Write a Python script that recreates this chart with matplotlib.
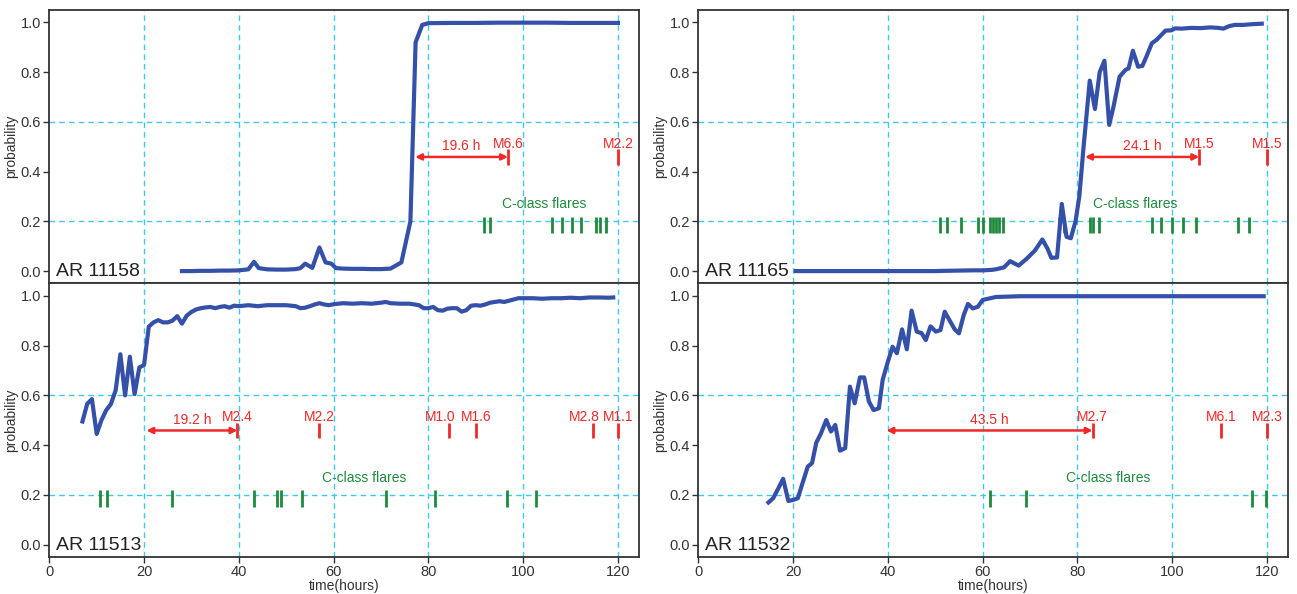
import matplotlib
matplotlib.use("Agg")
import matplotlib.pyplot as plt

plt.rcParams["font.family"] = ["Liberation Sans", "DejaVu Sans"]

BLUE = "#3450a8"
RED = "#f02828"
GREEN = "#1f8a3c"
GRID = "#3cc8f0"
INK = "#333333"

# ---- AR 11158 ----
ar11158_t = [28, 30, 32, 34, 36, 38, 40, 42, 43.2, 44.2, 46, 48, 50, 52, 53, 54, 55.5, 57, 58.3, 59.5,
             60.5, 62, 64, 66, 68, 70, 72, 74.3, 76.2, 77.3, 78.7, 80, 85, 90, 95, 100, 105, 110, 115, 120]
ar11158_p = [0.0, 0.0, 0.001, 0.001, 0.002, 0.002, 0.003, 0.007, 0.037, 0.012, 0.007, 0.006, 0.006, 0.008, 0.012,
             0.03, 0.013, 0.095, 0.035, 0.03, 0.012, 0.01, 0.009, 0.009, 0.008, 0.008, 0.01, 0.035, 0.2, 0.92,
             0.99, 0.997, 0.998, 0.998, 0.999, 0.999, 0.999, 0.998, 0.998, 0.998]
ar11158_m_times = [96.8, 120.0]
ar11158_m_labels = ["M6.6", "M2.2"]
ar11158_c_times = [91.8, 93.1, 106.0, 108.2, 110.4, 112.1, 115.4, 116.3, 117.4]
ar11158_lead = 19.6

# ---- AR 11513 ----
ar11513_t = list(range(7, 41)) + [42, 44, 46, 48, 50, 52] + list(range(53, 61)) + [62, 64, 66, 68, 70, 71, 72, 74, 76, 78] \
    + list(range(79, 101)) + list(range(102, 119, 2)) + [119]
ar11513_p = [0.495, 0.566, 0.585, 0.445, 0.5, 0.54, 0.565, 0.62, 0.765, 0.60,
             0.755, 0.605, 0.712, 0.722, 0.876, 0.893, 0.902, 0.893, 0.893, 0.9,
             0.918, 0.888, 0.92, 0.935, 0.945, 0.95, 0.953, 0.955, 0.95, 0.955,
             0.958, 0.952, 0.96, 0.958,
             0.962, 0.958, 0.962, 0.962, 0.962, 0.958,
             0.95, 0.952, 0.958, 0.965, 0.97, 0.965, 0.962, 0.966,
             0.97, 0.968, 0.97, 0.968, 0.972, 0.975, 0.97, 0.968, 0.968, 0.962,
             0.95, 0.95, 0.955, 0.942, 0.94, 0.948, 0.95, 0.95, 0.936, 0.942, 0.96,
             0.962, 0.96, 0.965, 0.972, 0.975, 0.978, 0.975, 0.98, 0.985, 0.99, 0.99,
             0.99, 0.988, 0.99, 0.99, 0.992, 0.99, 0.993, 0.993, 0.992, 0.993]
ar11513_m_times = [39.7, 56.9, 84.4, 90.0, 114.8, 120.0]
ar11513_m_labels = ["M2.4", "M2.2", "M1.0", "M1.6", "M2.8", "M1.1"]
ar11513_c_times = [10.8, 12.1, 25.9, 43.2, 48.1, 48.9, 53.4, 71.1, 81.4, 96.6, 102.7]
ar11513_lead = 19.2

# ---- AR 11165 ----
ar11165_t = [20.6, 25, 30, 35, 40, 45, 50, 52, 55, 58, 60, 62, 63, 64.5, 65.8, 67.6, 69.3, 71, 72.6, 73.7,
             74.5, 75.7, 76.7, 77.7, 78.6, 79.6, 80.4, 81.3, 82.6, 83.7, 84.7, 85.7, 86.7, 87.6, 88.9, 90.2,
             90.8, 91.7, 92.8, 93.7, 94.5, 95.7, 96.7, 98.6, 99.8, 100.6, 102, 104, 106, 108, 109.7, 110.8,
             112, 113.2, 115, 117, 118.9]
ar11165_p = [0.0, 0.0, 0.0, 0.0, 0.0, 0.0, 0.0, 0.001, 0.002, 0.003, 0.003, 0.005, 0.008, 0.015, 0.04, 0.022,
             0.05, 0.082, 0.127, 0.09, 0.053, 0.055, 0.27, 0.138, 0.132, 0.2, 0.3, 0.5, 0.766, 0.652, 0.8,
             0.846, 0.588, 0.66, 0.782, 0.81, 0.815, 0.886, 0.822, 0.825, 0.86, 0.916, 0.93, 0.967, 0.968,
             0.976, 0.975, 0.978, 0.977, 0.98, 0.978, 0.975, 0.985, 0.99, 0.99, 0.993, 0.995]
ar11165_m_times = [105.7, 120.0]
ar11165_m_labels = ["M1.5", "M1.5"]
ar11165_c_times = [51.1, 52.4, 55.4, 59.0, 60.0, 61.5, 62.1, 62.8, 63.5, 64.3, 76.1, 77.1, 82.6, 83.2, 84.5,
                   95.7, 97.6, 100.0, 102.2, 105.0, 113.9, 116.1]
ar11165_lead = 24.1

# ---- AR 11532 ----
ar11532_t = [14.8, 15.8, 16.9, 17.9, 19.0, 20.0, 21.0, 22.1, 23.1, 24.0, 24.9, 25.9, 27.0, 28.0, 28.9, 29.9,
             31.0, 32.0, 33.0, 34.1, 35.0, 36.0, 37.0, 38.1, 38.9, 40.0, 41.0, 41.9, 43.0, 44.0, 45.0, 46.1,
             47.1, 48.0, 49.0, 50.1, 51.1, 52.0, 53.0, 54.1, 55.0, 56.0, 56.9, 57.9, 59.0, 60.0, 62.8, 68,
             80, 90, 100, 110, 119.3]
ar11532_p = [0.17, 0.187, 0.227, 0.265, 0.176, 0.18, 0.187, 0.254, 0.314, 0.328, 0.41, 0.448, 0.501, 0.455,
             0.481, 0.378, 0.388, 0.635, 0.568, 0.672, 0.672, 0.575, 0.541, 0.548, 0.662, 0.735, 0.795, 0.769,
             0.865, 0.785, 0.94, 0.856, 0.85, 0.822, 0.877, 0.856, 0.862, 0.936, 0.902, 0.865, 0.849, 0.922,
             0.967, 0.949, 0.956, 0.983, 0.995, 0.998, 0.998, 0.998, 0.998, 0.998, 0.998]
ar11532_m_times = [83.2, 110.4, 120.0]
ar11532_m_labels = ["M2.7", "M6.1", "M2.3"]
ar11532_c_times = [61.5, 69.2, 116.9, 119.7]
ar11532_lead = 43.5

# layout: horizontal nudges (hours) of the M-flare labels, and C-label centres
LABEL_NUDGE = {
    "AR 11158": [0, 0],
    "AR 11513": [0, 0, -1.9, 0, -1.8, 0],
    "AR 11165": [0, 0],
    "AR 11532": [0, 0, 0],
}
C_LABEL_X = {"AR 11158": 104.5, "AR 11513": 66.5, "AR 11165": 92.2, "AR 11532": 86.4}


def draw_panel(ax, name, t, p, m_times, m_labels, c_times, lead, bottom):
    for x in range(20, 121, 20):
        ax.axvline(x, color=GRID, lw=1, ls=(0, (4, 3)), zorder=0)
    for y in (0.2, 0.6):
        ax.axhline(y, color=GRID, lw=1, ls=(0, (4, 3)), zorder=0)

    ax.plot(t, p, color=BLUE, lw=3, solid_joinstyle="round", zorder=3)

    ax.vlines(c_times, 0.152, 0.218, color=GREEN, lw=2, zorder=2)
    ax.text(C_LABEL_X[name], 0.27, "C-class flares", color=GREEN, fontsize=10, ha="center", va="center")

    ax.vlines(m_times, 0.428, 0.49, color=RED, lw=2, zorder=2)
    for m, lab, dx in zip(m_times, m_labels, LABEL_NUDGE[name]):
        ax.text(m + dx, 0.496, lab, color=RED, fontsize=10, ha="center", va="baseline")

    start = m_times[0] - lead
    ax.annotate("", xy=(m_times[0], 0.459), xytext=(start, 0.459),
                arrowprops=dict(arrowstyle="<|-|>", color=RED, lw=1.8, mutation_scale=9,
                                shrinkA=0, shrinkB=0))
    ax.text((start + m_times[0]) / 2, 0.485, f"{lead} h", color=RED, fontsize=10,
            ha="center", va="baseline")

    ax.text(1.5, -0.02, name, fontsize=14, color="#222222", ha="left", va="baseline")

    ax.set_xlim(0, 124.5)
    ax.set_ylim(-0.049, 1.05)
    ax.set_xticks(range(0, 121, 20))
    ax.set_yticks([0.0, 0.2, 0.4, 0.6, 0.8, 1.0])
    ax.set_yticklabels(["0.0", "0.2", "0.4", "0.6", "0.8", "1.0"])
    ax.tick_params(direction="out", length=4, width=1, pad=2, labelsize=10.5, color=INK, labelcolor=INK)
    ax.set_ylabel("probability", fontsize=10, color=INK, labelpad=2)
    if bottom:
        ax.set_xlabel("time(hours)", fontsize=10, color=INK, labelpad=0)
    else:
        ax.tick_params(labelbottom=False, bottom=False)
    for s in ax.spines.values():
        s.set_color(INK)
        s.set_linewidth(1.3)


fig = plt.figure(figsize=(12.97, 5.94), dpi=100)
ax_tl = fig.add_axes([0.0380, 0.5231, 0.4549, 0.4601])
ax_bl = fig.add_axes([0.0380, 0.0623, 0.4549, 0.4608])
ax_tr = fig.add_axes([0.5384, 0.5231, 0.4549, 0.4601])
ax_br = fig.add_axes([0.5384, 0.0623, 0.4549, 0.4608])

draw_panel(ax_tl, "AR 11158", ar11158_t, ar11158_p, ar11158_m_times, ar11158_m_labels,
           ar11158_c_times, ar11158_lead, False)
draw_panel(ax_bl, "AR 11513", ar11513_t, ar11513_p, ar11513_m_times, ar11513_m_labels,
           ar11513_c_times, ar11513_lead, True)
draw_panel(ax_tr, "AR 11165", ar11165_t, ar11165_p, ar11165_m_times, ar11165_m_labels,
           ar11165_c_times, ar11165_lead, False)
draw_panel(ax_br, "AR 11532", ar11532_t, ar11532_p, ar11532_m_times, ar11532_m_labels,
           ar11532_c_times, ar11532_lead, True)

fig.savefig("out.png", dpi=100)
